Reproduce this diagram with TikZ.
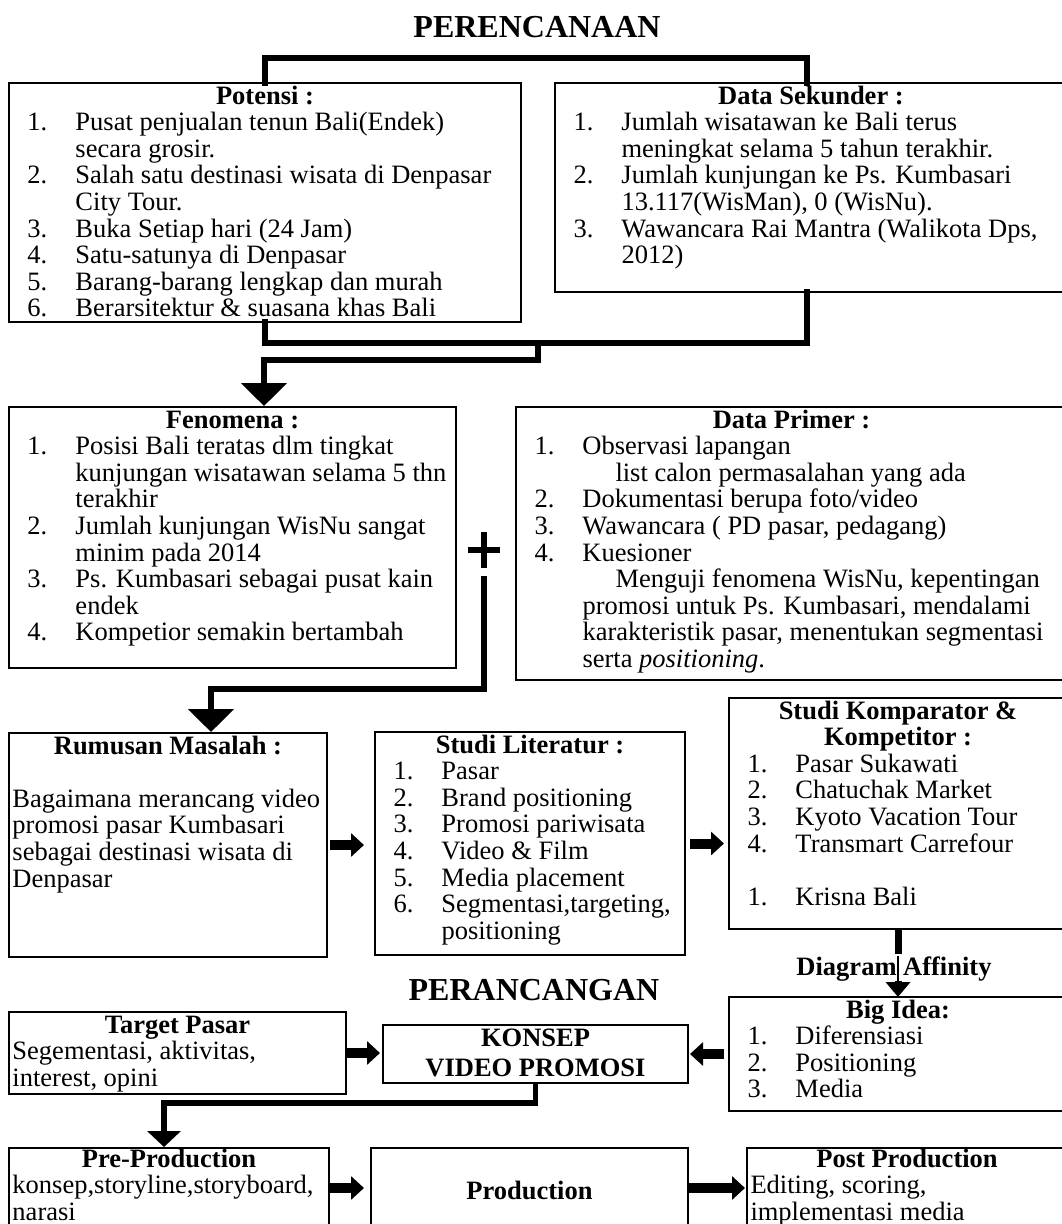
\documentclass[tikz,border=0pt]{standalone}
\usepackage{fontspec}
\setmainfont{Liberation Serif}
\usetikzlibrary{arrows.meta,positioning}

\newcommand{\panel}[3]{\parbox[c][#2pt][t]{#1pt}{\fontsize{26.5}{26.6}\selectfont\lineskiplimit=-20pt\raggedright\rightskip=-60pt plus 1fil\relax #3}}
\newcommand{\hd}[2][21]{{\centering\rule{0pt}{#1pt}\textbf{#2}\par}}
\newcommand{\itm}[2]{\par\hangindent=66.5pt\hangafter=1\leavevmode\hspace*{18.5pt}\makebox[48pt][l]{#1}#2\par}
\newcommand{\txt}[1]{\par{\leftskip=3.5pt\relax #1\par}}
\newcommand{\gap}{\par\vskip\baselineskip}

\begin{document}
\begin{tikzpicture}[x=1pt,y=-1pt,font=\fontsize{26.5}{26.6}\selectfont]
\tikzstyle{box}=[draw, line width=2pt, inner sep=0pt, outer sep=0pt, anchor=north west]
\tikzstyle{link}=[line width=5.5pt, line cap=rect]
\tikzstyle{bigarrow}=[line width=5.5pt, -{Triangle[width=45pt,length=23pt]}]
\tikzstyle{blockarrow}=[line width=10pt, -{Triangle[width=23pt,length=13pt]}]
\tikzstyle{heading}=[font=\fontsize{32}{36}\selectfont\bfseries]
\useasboundingbox (0,0) rectangle (1062,1224);
\fill[white] (0,0) rectangle (1062,1224);
\clip (0,0) rectangle (1062,1224);

% PERENCANAAN
\draw (537,27) node (perencanaan) [heading] {PERENCANAAN};

\draw (9,83) node (potensi) [box] {\panel{512}{239}{\hd{Potensi :}
  \itm{1.}{Pusat penjualan tenun Bali(Endek)\newline secara grosir.}
  \itm{2.}{Salah satu destinasi wisata di Denpasar\newline City Tour.}
  \itm{3.}{Buka Setiap hari (24 Jam)}
  \itm{4.}{Satu-satunya di Denpasar}
  \itm{5.}{Barang-barang lengkap dan murah}
  \itm{6.}{Berarsitektur \& suasana khas Bali}}};
\draw (555,83) node (sekunder) [box] {\panel{512}{209}{\hd{Data Sekunder :}
  \itm{1.}{Jumlah wisatawan ke Bali terus\newline meningkat selama 5 tahun terakhir.}
  \itm{2.}{Jumlah kunjungan ke Ps. Kumbasari\newline 13.117(WisMan), 0 (WisNu).}
  \itm{3.}{Wawancara Rai Mantra (Walikota Dps,\newline 2012)}}};

\draw (9,407) node (fenomena) [box] {\panel{447}{261}{\hd{Fenomena :}
  \itm{1.}{Posisi Bali teratas dlm tingkat\newline kunjungan wisatawan selama 5 thn\newline terakhir}
  \itm{2.}{Jumlah kunjungan WisNu sangat\newline minim pada 2014}
  \itm{3.}{Ps. Kumbasari sebagai pusat kain\newline endek}
  \itm{4.}{Kompetior semakin bertambah}}};
\draw (516,407) node (primer) [box] {\panel{551}{273}{\hd{Data Primer :}
  \itm{1.}{Observasi lapangan\newline\hspace*{33pt}list calon permasalahan yang ada}
  \itm{2.}{Dokumentasi berupa foto/video}
  \itm{3.}{Wawancara ( PD pasar, pedagang)}
  \itm{4.}{Kuesioner\newline\hspace*{33pt}Menguji fenomena WisNu, kepentingan\newline promosi untuk Ps. Kumbasari, mendalami\newline karakteristik pasar, menentukan segmentasi\newline serta \textit{positioning}.}}};

\draw (9,733) node (rumusan) [box] {\panel{318}{224}{\hd{Rumusan Masalah :}\gap
  \txt{Bagaimana merancang video\newline promosi pasar Kumbasari\newline sebagai destinasi wisata di\newline Denpasar}}};
\draw (375,732) node (literatur) [box] {\panel{310}{223}{\hd{Studi Literatur :}
  \itm{1.}{Pasar}
  \itm{2.}{Brand positioning}
  \itm{3.}{Promosi pariwisata}
  \itm{4.}{Video \& Film}
  \itm{5.}{Media placement}
  \itm{6.}{Segmentasi,targeting,\newline positioning}}};
\draw (729,698) node (komparator) [box] {\panel{338}{231}{\hd{Studi Komparator \&\\Kompetitor :}
  \itm{1.}{Pasar Sukawati}
  \itm{2.}{Chatuchak Market}
  \itm{3.}{Kyoto Vacation Tour}
  \itm{4.}{Transmart Carrefour}\gap
  \itm{1.}{Krisna Bali}}};

% PERANCANGAN
\draw (534,990) node (perancangan) [heading] {PERANCANGAN};
\draw (894,975) node (affinity) [anchor=base, inner sep=0pt, font=\fontsize{26.5}{26.6}\selectfont\bfseries] {Diagram Affinity};

\draw (9,1012) node (target) [box] {\panel{337}{82}{\hd{Target Pasar}
  \txt{Segementasi, aktivitas,\newline interest, opini}}};
\draw (383,1025) node (konsep) [box] {\panel{305}{58}{{\centering\rule{0pt}{21pt}\textbf{KONSEP}\\[4pt]\textbf{VIDEO PROMOSI}\par}}};
\draw (729,997) node (bigidea) [box] {\panel{338}{114}{\hd{Big Idea:}
  \itm{1.}{Diferensiasi}
  \itm{2.}{Positioning}
  \itm{3.}{Media}}};

\draw (9,1148) node (pre) [box] {\panel{320}{80}{\hd[19]{Pre-Production}
  \txt{konsep,storyline,storyboard,\newline narasi}}};
\draw (371,1148) node (production) [box] {\panel{317}{80}{{\centering\rule{0pt}{51pt}\textbf{Production}\par}}};
\draw (747,1148) node (post) [box] {\panel{320}{80}{\hd[19]{Post Production}
  \txt{Editing, scoring,\newline implementasi media}}};

% connectors
\coordinate (sektop) at (807,83);
\coordinate (sekbot) at (807,292);
\coordinate (merge) at (538,343);
\coordinate (fentop) at (264,406);
\coordinate (rumjoint) at (211,689);
\coordinate (rumtop) at (211,732);
\coordinate (prejoint) at (164,1103);
\coordinate (pretop) at (164,1147);

\draw[link] (potensi.north) -- ++(0,-25) -| (sektop);
\draw[link] (potensi.south) |- (merge) -| (sekbot);
\draw[bigarrow] (merge) -- ++(0,17) -| (fentop);

\draw (484,550) node (plus) [minimum width=32pt, minimum height=35pt, inner sep=0pt] {};
\draw[line width=5.5pt] (plus.west) -- (plus.east) (plus.north) -- (plus.south);
\draw[bigarrow] ([yshift=-8pt]plus.south) |- (rumjoint) -- (rumtop);

\draw[blockarrow, shorten <=3pt, shorten >=11pt] (rumusan.east) -- (literatur.west |- rumusan.east);
\draw[blockarrow, shorten <=5pt, shorten >=5pt] (literatur.east) -- (komparator.west |- literatur.east);
\draw[line width=7pt, shorten >=2pt] (komparator.south) -- (komparator.south |- affinity.north);
\draw[line width=2pt] (komparator.south |- affinity.north) -- (komparator.south |- affinity.south);
\draw[line width=7pt, -{Triangle[width=24pt,length=15pt]}] (komparator.south |- affinity.south) -- (bigidea.north);
\draw[blockarrow, shorten <=5pt, shorten >=2pt] (bigidea.west) -- (konsep.east |- bigidea.west);
\draw[blockarrow, shorten >=3pt] (target.east) -- (konsep.west |- target.east);
\draw[link, line cap=butt, -{Triangle[width=33pt,length=16pt]}] (konsep.south) |- (prejoint) -- (pretop);
\draw[blockarrow, shorten <=1pt, shorten >=7pt] (pre.east) -- (production.west);
\draw[blockarrow, shorten >=2pt] (production.east) -- (post.west);
\end{tikzpicture}
\end{document}
